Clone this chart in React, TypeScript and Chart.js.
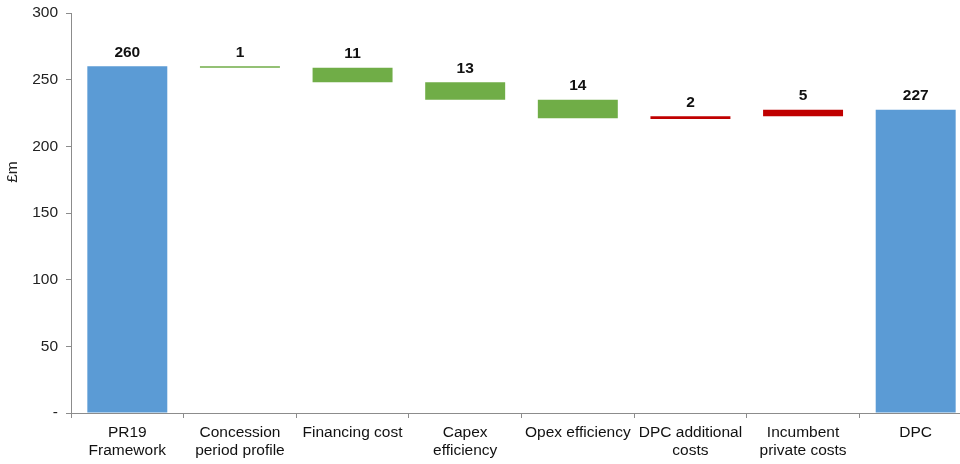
import React, { useEffect, useRef } from "react";
import { Chart, registerables } from "chart.js";

Chart.register(...registerables);

const categories: (string | string[])[] = [
  ["PR19", "Framework"],
  ["Concession", "period profile"],
  "Financing cost",
  ["Capex", "efficiency"],
  "Opex efficiency",
  ["DPC additional", "costs"],
  ["Incumbent", "private costs"],
  "DPC",
];
const barStarts = [0, 259, 248, 235, 221, 220.5, 222.5, 0];
const barEnds = [260, 260, 259, 248, 235, 222.5, 227.5, 227.5];
const valueLabels = ["260", "1", "11", "13", "14", "2", "5", "227"];
const barColors = ["#5B9BD5", "#70AD47", "#70AD47", "#70AD47", "#70AD47", "#C00000", "#C00000", "#5B9BD5"];
const yTicks = [0, 50, 100, 150, 200, 250, 300];
const yTitle = "£m";

const FONT = "'Liberation Sans', Arial, sans-serif";

const labelPlugin = {
  id: "valueLabels",
  afterDatasetsDraw(chart: any) {
    const ctx = chart.ctx;
    const meta = chart.getDatasetMeta(0);
    ctx.save();
    ctx.font = `bold 15.5px ${FONT}`;
    ctx.fillStyle = "#111";
    ctx.textAlign = "center";
    ctx.textBaseline = "middle";
    meta.data.forEach((bar: any, i: number) => {
      const top = Math.min(bar.y, bar.base);
      ctx.fillText(valueLabels[i], bar.x, top - 14);
    });
    // y axis title
    ctx.translate(13, 172);
    ctx.rotate(-Math.PI / 2);
    ctx.font = `15.5px ${FONT}`;
    ctx.fillStyle = "#222";
    ctx.fillText(yTitle, 0, 0);
    ctx.restore();
  },
};

export default function App() {
  const ref = useRef<HTMLCanvasElement>(null);
  useEffect(() => {
    document.body.style.margin = "0";
    document.body.style.overflow = "hidden";
    const chart = new Chart(ref.current!, {
      type: "bar",
      data: {
        labels: categories,
        datasets: [
          {
            data: barStarts.map((s, i) => [s, barEnds[i]]) as any,
            backgroundColor: barColors,
            borderWidth: 0,
            barPercentage: 0.71,
            categoryPercentage: 1,
          },
        ],
      },
      options: {
        responsive: false,
        animation: false,
        devicePixelRatio: 1,
        layout: { padding: { top: 13, right: 0, bottom: 0, left: 0 } },
        plugins: { legend: { display: false }, tooltip: { enabled: false } },
        scales: {
          x: {
            grid: { drawOnChartArea: false, tickLength: 5, color: "#8c8c8c", offset: true },
            border: { color: "#8c8c8c", width: 1 },
            ticks: {
              font: { family: FONT, size: 15.5, lineHeight: 1.17 },
              color: "#111",
              padding: 6,
              maxRotation: 0,
              autoSkip: false,
            },
            afterFit: (s: any) => {
              s.height = 51;
              s.paddingLeft = 0;
              s.paddingRight = 0;
            },
          },
          y: {
            min: 0,
            max: 300,
            afterBuildTicks: (s: any) => {
              s.ticks = yTicks.map((v) => ({ value: v }));
            },
            grid: { drawOnChartArea: false, tickLength: 5, color: "#8c8c8c" },
            border: { color: "#8c8c8c", width: 1 },
            ticks: {
              font: { family: FONT, size: 15.5 },
              color: "#222",
              padding: 8,
              callback: (v: any) => (Number(v) === 0 ? "-" : String(v)),
            },
            afterFit: (s: any) => {
              s.width = 71;
              s.paddingTop = 0;
              s.paddingBottom = 0;
            },
          },
        },
      },
      plugins: [labelPlugin],
    });
    return () => chart.destroy();
  }, []);
  return (
    <div style={{ width: 972, height: 464, overflow: "visible" }}>
      <canvas ref={ref} width={972} height={464} />
    </div>
  );
}
